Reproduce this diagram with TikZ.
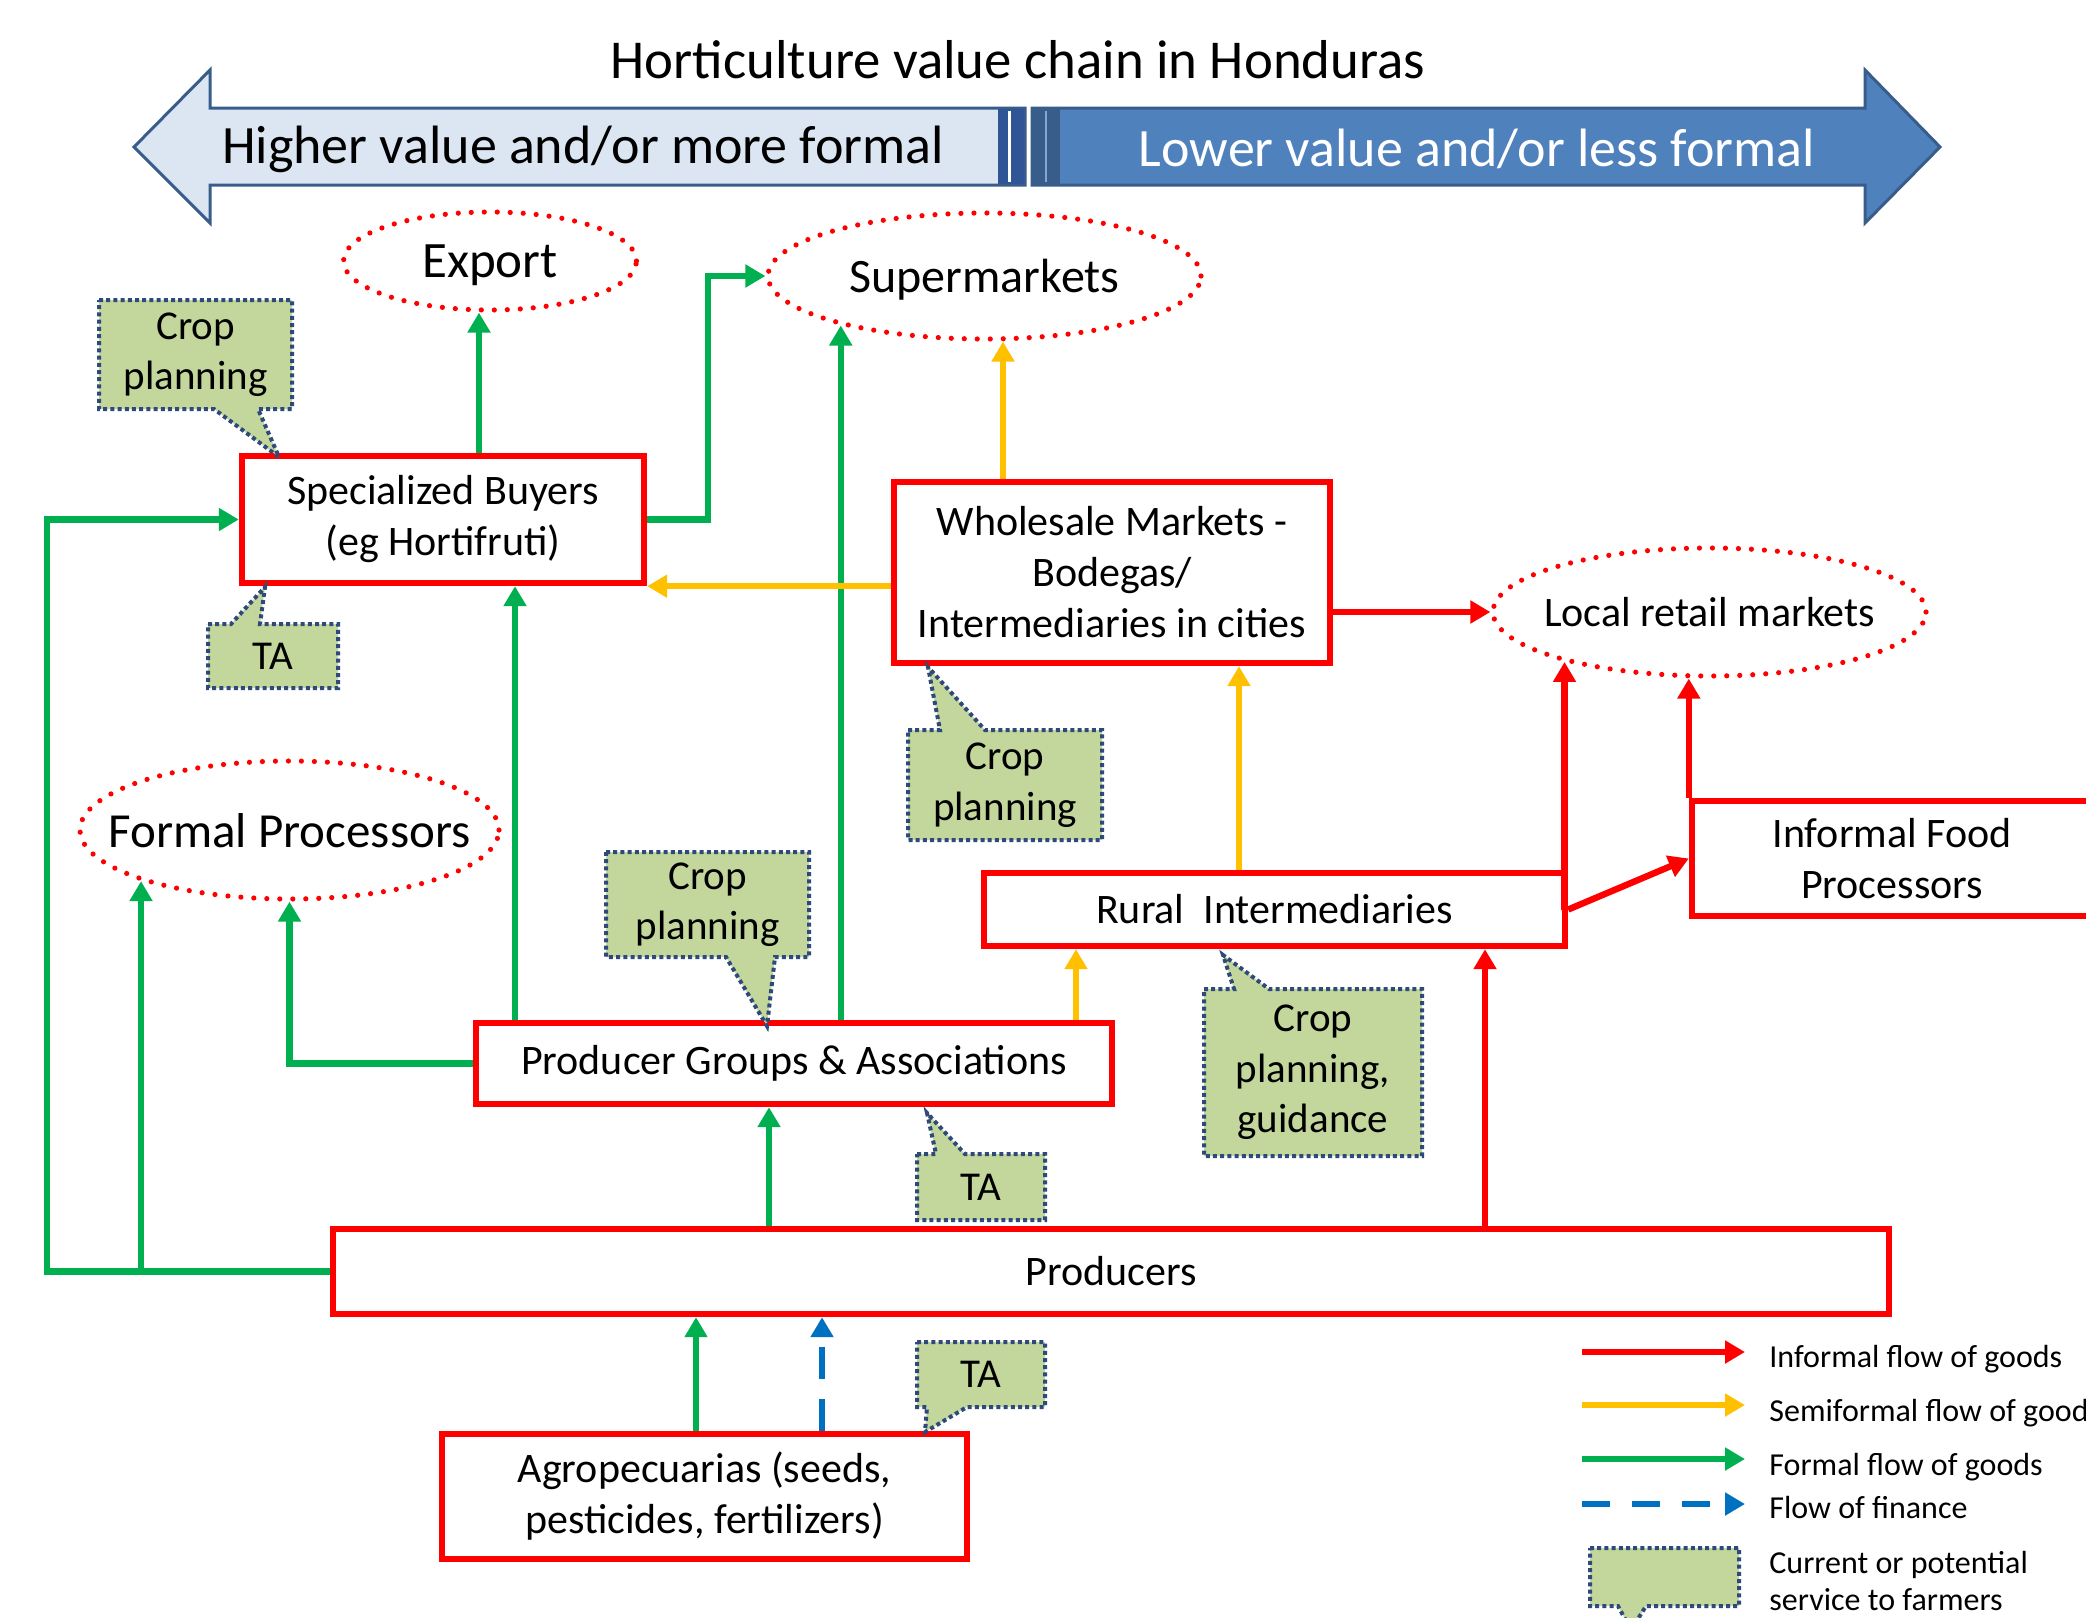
\documentclass[tikz,border=0pt]{standalone}
\usepackage{fontspec}
\setmainfont{Carlito}
\usetikzlibrary{arrows.meta,shapes.geometric}
\definecolor{myred}{HTML}{FF0000}
\definecolor{mygreen}{HTML}{00B050}
\definecolor{myyellow}{HTML}{FFC000}
\definecolor{myblue}{HTML}{0070C0}
\definecolor{calfill}{HTML}{C3D69B}
\definecolor{calline}{HTML}{2E4A7A}
\definecolor{lightarrow}{HTML}{DCE6F2}
\definecolor{darkarrow}{HTML}{4F81BD}
\definecolor{arrowline}{HTML}{385D8A}
\definecolor{darkband}{HTML}{2F5597}
\newcommand{\mycallbot}[7]{%
  \filldraw[callshape] (#1,#2) -- (#3,#2) -- (#3,#4) -- (#6,#4) -- #7 -- (#5,#4) -- (#1,#4) -- cycle;}
\newcommand{\mycalltop}[7]{%
  \filldraw[callshape] (#1,#2) -- (#5,#2) -- #7 -- (#6,#2) -- (#3,#2) -- (#3,#4) -- (#1,#4) -- cycle;}
\newcommand{\ovaltext}[1]{\makebox[0pt]{#1}}
\tikzset{
  box/.style={draw=myred, line width=3.2pt, fill=white, inner sep=0pt, align=center,
    font=\fontsize{21}{25.5}\selectfont},
  oval/.style={ellipse, draw=myred, line width=2.6pt, dash pattern=on 0pt off 6.5pt,
    line cap=round, inner sep=0pt, text depth=0pt},
  callshape/.style={fill=calfill, draw=calline, line width=2pt, dash pattern=on 2pt off 1.6pt},
  calltext/.style={align=center, inner sep=0pt, font=\fontsize{20.5}{25.25}\selectfont},
  legtext/.style={inner sep=0pt, anchor=base west, align=left, font=\fontsize{16}{19}\selectfont},
  flow/.style={line width=3.2pt, -{Triangle[length=10pt,width=11pt]}},
  fgreen/.style={flow, draw=mygreen},
  fyellow/.style={flow, draw=myyellow},
  fred/.style={flow, draw=myred},
  fblue/.style={flow, draw=myblue, dash pattern=on 16pt off 10pt},
}
\begin{document}
\begin{tikzpicture}[x=0.5pt,y=-0.5pt]
\useasboundingbox (0,0) rectangle (2086,1617);
\fill[white] (0,0) rectangle (2086,1617);

% title and banner
\node[inner sep=0pt, font=\fontsize{27.4}{32}\selectfont] (title) at (1018,60) {Horticulture value chain in Honduras};
\filldraw[fill=lightarrow, draw=arrowline, line width=1.5pt]
  (134,147) -- (210,70) -- (210,108) -- (1025,108) -- (1025,185) -- (210,185) -- (210,223) -- cycle;
\fill[darkband] (998,109) rectangle (1024,184);
\draw[white, line width=1.2pt] (1009.5,111) -- (1009.5,182);
\filldraw[fill=darkarrow, draw=arrowline, line width=1.5pt]
  (1032,108) -- (1865,108) -- (1865,70) -- (1940,147) -- (1865,223) -- (1865,185) -- (1032,185) -- cycle;
\fill[arrowline] (1033,109) rectangle (1060,184);
\draw[darkarrow!70!white, line width=1pt] (1046,111) -- (1046,182);
\node[inner sep=0pt, font=\fontsize{27}{32}\selectfont] (hv) at (583,149) {Higher value and/or more formal};
\node[inner sep=0pt, text=white, font=\fontsize{27}{32}\selectfont] (lv) at (1477,149) {Lower value and/or less formal};

% ellipses
\node[oval, minimum width=146.5pt, minimum height=49pt, font=\fontsize{25.5}{29}\selectfont] (Export) at (490,261) {\ovaltext{Export}};
\node[oval, minimum width=216.5pt, minimum height=63pt, font=\fontsize{24}{29}\selectfont] (Super) at (984.5,276) {\ovaltext{Supermarkets}};
\node[oval, minimum width=209.5pt, minimum height=69pt, font=\fontsize{24.5}{29}\selectfont] (FP) at (289.5,830) {\ovaltext{Formal Processors}};
\node[oval, minimum width=216.5pt, minimum height=64pt, font=\fontsize{21}{25}\selectfont] (LR) at (1709.5,612) {\ovaltext{Local retail markets}};

% boxes
\node[box, minimum width=201pt, minimum height=63.5pt] (SB) at (443,519.5) {Specialized Buyers\\(eg Hortifruti)};
\node[box, minimum width=218pt, minimum height=90.5pt] (WM) at (1112,572.5) {Wholesale Markets -\\Bodegas/\\Intermediaries in cities};
\node[box, minimum width=290.5pt, minimum height=36.5pt] (RI) at (1274.5,909.5) {Rural\ \ Intermediaries};
\node[box, minimum width=200pt, minimum height=57.5pt] (IFP) at (1892,858.5) {Informal Food\\Processors};
\node[box, minimum width=318pt, minimum height=40.5pt] (PG) at (794,1063.5) {Producer Groups \& Associations};
\node[box, minimum width=778pt, minimum height=42.5pt] (PR) at (1111,1271.5) {Producers};
\node[box, minimum width=262.5pt, minimum height=62.5pt] (AG) at (704.5,1496.5) {Agropecuarias (seeds,\\pesticides, fertilizers)};

% green flows
\draw[fgreen] (SB.north -| 479,0) -- (Export.south -| 479,0);
\draw[fgreen] (SB.east) -- ++(61,0) |- (Super.west);
\draw[fgreen] (PG.north -| 515,0) -- (SB.south -| 515,0);
\draw[fgreen] (Super.199 |- PG.north) -- (Super.199);
\draw[fgreen] (PG.west) -| (FP.south);
\draw[fgreen] (PR.west) -- (PR.west -| 47,0) |- (SB.west);
\draw[fgreen] (FP.199.2 |- PR.west) -- (FP.199.2);
\draw[fgreen] (PR.north -| 769,0) -- (PG.south -| 769,0);
\draw[fgreen] (AG.north -| 696,0) -- (PR.south -| 696,0);
\draw[fblue] (AG.north -| 822,0) -- (PR.south -| 822,0);

% yellow flows
\draw[fyellow] (WM.north -| 1003,0) -- (Super.south -| 1003,0);
\draw[fyellow] (WM.west |- SB.south east) -- (SB.south east);
\draw[fyellow] (RI.north -| 1239,0) -- (WM.south -| 1239,0);
\draw[fyellow] (PG.north -| 1076,0) -- (RI.south -| 1076,0);

% red flows
\draw[fred] (WM.east |- LR.west) -- (LR.west);
\draw[fred] (LR.199.2 |- RI.east) -- (LR.199.2);
\draw[fred] (RI.east) -- (IFP.west);
\draw[fred] (IFP.north west) -- (IFP.north west |- LR.south);
\draw[fred] (PR.north -| 1485,0) -- (RI.south -| 1485,0);

% callouts
\mycallbot{99}{300}{292}{409}{214}{258}{(279,457)}
\node[calltext] (c1) at (195.5,354.5) {Crop\\planning};
\mycalltop{208}{624}{338}{688}{231}{260}{(265,587)}
\node[calltext] (c2) at (273,656) {TA};
\mycalltop{908}{730}{1102}{840}{940}{985}{(928,667)}
\node[calltext] (c3) at (1005,785) {Crop\\planning};
\mycallbot{606}{852}{809}{957}{726}{775}{(767,1026)}
\node[calltext] (c4) at (707.5,904.5) {Crop\\planning};
\mycalltop{917}{1154}{1045}{1220}{936}{965}{(927,1113)}
\node[calltext] (c5) at (981,1187) {TA};
\mycalltop{1204}{989}{1422}{1156}{1234}{1269}{(1223,955)}
\node[calltext] (c6) at (1313,1072.5) {Crop\\planning,\\guidance};
\mycallbot{917}{1342}{1045}{1407}{927}{967}{(925,1432)}
\node[calltext] (c7) at (981,1374.5) {TA};

% legend
\coordinate (l1a) at (1582,1352); \coordinate (l1b) at (1745,1352);
\coordinate (l2a) at (1582,1405); \coordinate (l2b) at (1745,1405);
\coordinate (l3a) at (1582,1459); \coordinate (l3b) at (1745,1459);
\coordinate (l4a) at (1582,1504); \coordinate (l4b) at (1745,1504);
\draw[fred] (l1a) -- (l1b);
\draw[fyellow] (l2a) -- (l2b);
\draw[fgreen] (l3a) -- (l3b);
\draw[fblue, dash pattern=on 14pt off 11pt] (l4a) -- (l4b);
\node[legtext] (t1) at (1769,1367) {Informal flow of goods};
\node[legtext] (t2) at (1769,1421) {Semiformal flow of goods};
\node[legtext] (t3) at (1769,1475) {Formal flow of goods};
\node[legtext] (t4) at (1769,1518) {Flow of finance};
\mycallbot{1590}{1548}{1739}{1606}{1618}{1646}{(1631,1630)}
\node[legtext] (t5) at (1769,1573) {Current or potential};
\node[legtext] (t6) at (1769,1610) {service to farmers};
\end{tikzpicture}
\end{document}
